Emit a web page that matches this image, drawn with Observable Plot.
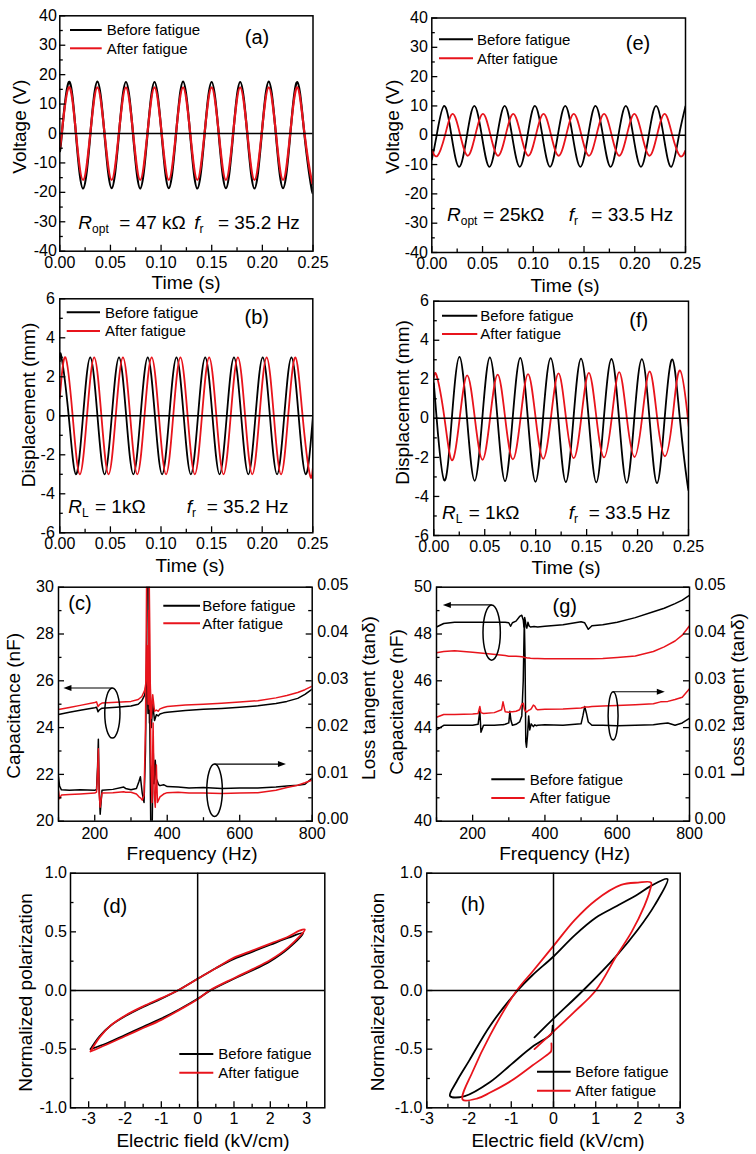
<!DOCTYPE html>
<html>
<head>
<meta charset="utf-8">
<script src="https://cdn.jsdelivr.net/npm/d3@7"></script>
<script src="https://cdn.jsdelivr.net/npm/@observablehq/plot@0.6"></script>
<style>
  html, body { margin: 0; padding: 0; background: #fff; }
  #fig { position: relative; width: 756px; height: 1154px; overflow: hidden; background: #fff; }
  #fig > svg { position: absolute; overflow: visible; }
</style>
</head>
<body>
<div id="fig"></div>
<script>
// ================= DATA =================
const seriesNames = ["Before fatigue", "After fatigue"];

// (a) Voltage, R_opt = 47 kOhm, fr = 35.2 Hz (black/red in phase)
const aTime = [0, 0.0019, 0.0089, 0.0160, 0.0230, 0.0301, 0.0371, 0.0442, 0.0512, 0.0583, 0.0653, 0.0724, 0.0794, 0.0865, 0.0935, 0.1006, 0.1076, 0.1147, 0.1217, 0.1288, 0.1358, 0.1429, 0.1499, 0.1570, 0.1640, 0.1711, 0.1781, 0.1852, 0.1922, 0.1993, 0.2063, 0.2134, 0.2204, 0.2275, 0.2345, 0.2416, 0.2486, 0.25];
const aBefore = [-6, -0.5, 17.5, -0.5, -18.7, -0.5, 17.6, -0.5, -18.6, -0.5, 17.5, -0.5, -18.7, -0.5, 17.5, -0.5, -18.6, -0.5, 17.6, -0.5, -18.7, -0.5, 17.5, -0.5, -18.6, -0.5, 17.5, -0.5, -18.7, -0.5, 17.6, -0.5, -18.6, -0.5, 17.5, -0.5, -18.7, -18.5];
const aAfter = [-5, 0, 15.7, 0, -15.8, 0, 15.7, 0, -15.8, 0, 15.7, 0, -15.8, 0, 15.7, 0, -15.8, 0, 15.7, 0, -15.8, 0, 15.7, 0, -15.8, 0, 15.7, 0, -15.8, 0, 15.7, 0, -15.8, 0, 15.7, 0, -15.8, -15.6];

// (b) Displacement, RL = 1 kOhm, fr = 35.2 Hz
const bTimeBefore = [0, 0.0017, 0.0088, 0.0159, 0.0230, 0.0301, 0.0372, 0.0443, 0.0514, 0.0585, 0.0656, 0.0727, 0.0798, 0.0869, 0.0940, 0.1011, 0.1082, 0.1153, 0.1224, 0.1295, 0.1366, 0.1437, 0.1508, 0.1579, 0.1650, 0.1721, 0.1792, 0.1863, 0.1934, 0.2005, 0.2076, 0.2147, 0.2218, 0.2289, 0.2360, 0.2431, 0.25];
const bBefore = [2.8, 3.0, 0, -3.0, 0, 3.0, 0, -3.0, 0, 3.0, 0, -3.0, 0, 3.0, 0, -3.0, 0, 3.0, 0, -3.0, 0, 3.0, 0, -3.0, 0, 3.0, 0, -3.0, 0, 3.0, 0, -3.0, 0, 3.0, 0, -3.0, -0.1];
const bTimeAfter = [0, 0.0056, 0.0127, 0.0198, 0.0269, 0.0340, 0.0411, 0.0482, 0.0553, 0.0624, 0.0695, 0.0766, 0.0837, 0.0908, 0.0979, 0.1050, 0.1121, 0.1192, 0.1263, 0.1334, 0.1405, 0.1476, 0.1547, 0.1618, 0.1689, 0.1760, 0.1831, 0.1902, 0.1973, 0.2044, 0.2115, 0.2186, 0.2257, 0.2328, 0.2399, 0.2470, 0.25];
const bAfter = [0.9, 3.0, 0, -3.0, 0, 3.0, 0, -3.0, 0, 3.0, 0, -3.0, 0, 3.0, 0, -3.0, 0, 3.0, 0, -3.0, 0, 3.0, 0, -3.0, 0, 3.0, 0, -3.0, 0, 3.0, 0, -3.0, 0, 3.0, 0, -3.0, -2.7];

// (e) Voltage, R_opt = 25 kOhm, fr = 33.5 Hz
const eTimeBefore = [0, 0.0046, 0.0121, 0.0195, 0.0270, 0.0345, 0.0419, 0.0494, 0.0568, 0.0643, 0.0718, 0.0792, 0.0867, 0.0942, 0.1016, 0.1091, 0.1165, 0.1240, 0.1315, 0.1389, 0.1464, 0.1539, 0.1613, 0.1688, 0.1762, 0.1837, 0.1912, 0.1986, 0.2061, 0.2136, 0.2210, 0.2285, 0.2359, 0.2434, 0.25];
const eBefore = [-8.3, -0.4, 10.0, -0.4, -10.8, -0.4, 10.0, -0.4, -10.8, -0.4, 10.0, -0.4, -10.8, -0.4, 10.0, -0.4, -10.8, -0.4, 10.0, -0.4, -10.8, -0.4, 10.0, -0.4, -10.8, -0.4, 10.0, -0.4, -10.8, -0.4, 10.0, -0.4, -10.8, -0.4, 9.9];
const eTimeAfter = [0, 0.0056, 0.0131, 0.0205, 0.0280, 0.0355, 0.0429, 0.0504, 0.0578, 0.0653, 0.0728, 0.0802, 0.0877, 0.0952, 0.1026, 0.1101, 0.1175, 0.1250, 0.1325, 0.1399, 0.1474, 0.1549, 0.1623, 0.1698, 0.1772, 0.1847, 0.1922, 0.1996, 0.2071, 0.2146, 0.2220, 0.2295, 0.2369, 0.2444, 0.25];
const eAfter = [-5.0, -7.0, 0.1, 7.3, 0.1, -7.0, 0.1, 7.3, 0.1, -7.0, 0.1, 7.3, 0.1, -7.0, 0.1, 7.3, 0.1, -7.0, 0.1, 7.3, 0.1, -7.0, 0.1, 7.3, 0.1, -7.0, 0.1, 7.3, 0.1, -7.0, 0.1, 7.3, 0.1, -7.0, -5.2];

// (f) Displacement, RL = 1 kOhm, fr = 33.5 Hz
const fTimeBefore = [0, 0.0028, 0.0103, 0.0177, 0.0252, 0.0326, 0.0401, 0.0476, 0.0550, 0.0625, 0.0699, 0.0774, 0.0849, 0.0923, 0.0998, 0.1072, 0.1147, 0.1222, 0.1296, 0.1371, 0.1445, 0.1520, 0.1595, 0.1669, 0.1744, 0.1818, 0.1893, 0.1968, 0.2042, 0.2117, 0.2191, 0.2266, 0.2341, 0.2415, 0.2490, 0.25];
const fBefore = [1.8, 0, -3.18, 0, 3.15, 0, -3.2, 0, 3.12, 0, -3.22, 0, 3.1, 0, -3.25, 0, 3.08, 0, -3.27, 0, 3.06, 0, -3.28, 0, 3.04, 0, -3.3, 0, 3.03, 0, -3.32, 0, 3.02, 0, -3.38, -3.35];
const fTimeAfter = [0, 0.0030, 0.0105, 0.0179, 0.0254, 0.0328, 0.0403, 0.0478, 0.0552, 0.0627, 0.0701, 0.0776, 0.0851, 0.0925, 0.1000, 0.1074, 0.1149, 0.1224, 0.1298, 0.1373, 0.1447, 0.1522, 0.1597, 0.1671, 0.1746, 0.1820, 0.1895, 0.1970, 0.2044, 0.2119, 0.2193, 0.2268, 0.2343, 0.2417, 0.2492, 0.25];
const fAfter = [2.1, 2.15, 0, -2.15, 0, 2.2, 0, -2.12, 0, 2.24, 0, -2.1, 0, 2.27, 0, -2.07, 0, 2.3, 0, -2.04, 0, 2.33, 0, -2.0, 0, 2.37, 0, -1.98, 0, 2.4, 0, -1.94, 0, 2.45, 0.1, -0.3];

// (c) Capacitance (nF) and loss tangent vs frequency (Hz)
const cFreqCap = [100, 130, 160, 200, 205, 209, 213, 220, 260, 300, 320, 330, 338, 342, 345, 347, 349, 351, 353, 356, 360, 365, 370, 375, 380, 390, 400, 450, 500, 550, 600, 650, 700, 730, 760, 780, 800];
const cCapBefore = [24.56, 24.66, 24.74, 24.85, 24.87, 24.68, 24.76, 24.83, 24.87, 24.92, 25.0, 25.15, 25.4, 25.9, 26.05, 24.6, 27.5, 24.2, 25.6, 24.0, 25.0, 24.3, 24.55, 24.5, 24.58, 24.63, 24.66, 24.73, 24.78, 24.82, 24.87, 24.93, 25.03, 25.12, 25.25, 25.42, 25.64];
const cCapAfter = [24.77, 24.86, 24.95, 25.07, 25.1, 24.9, 24.98, 25.05, 25.08, 25.12, 25.2, 25.33, 25.6, 26.0, 27.5, 25.0, 29.0, 24.8, 26.0, 24.4, 25.4, 24.7, 24.75, 24.7, 24.8, 24.86, 24.9, 24.97, 25.0, 25.04, 25.09, 25.15, 25.27, 25.37, 25.5, 25.62, 25.77];
const cFreqTan = [100, 103, 108, 130, 160, 200, 205, 208, 210, 212, 215, 220, 250, 280, 285, 300, 315, 322, 326, 331, 336, 340, 343, 346, 349, 352, 355, 358, 361, 364, 367, 370, 373, 376, 380, 390, 400, 430, 460, 500, 550, 600, 650, 700, 730, 760, 780, 800];
const cTanBefore = [0.0095, 0.0075, 0.0067, 0.0066, 0.0067, 0.0066, 0.0068, 0.012, 0.0175, 0.008, 0.0015, 0.0066, 0.0068, 0.0073, 0.007, 0.0067, 0.007, 0.0085, 0.0095, 0.006, 0.004, 0.015, 0.035, 0.06, 0.055, 0.02, -0.005, -0.005, 0.016, 0.008, 0.013, 0.009, 0.0085, 0.0078, 0.0076, 0.0078, 0.0074, 0.0073, 0.0071, 0.0072, 0.007, 0.0071, 0.0071, 0.0073, 0.0075, 0.0077, 0.0079, 0.0092];
const cTanAfter = [0.0065, 0.0048, 0.0056, 0.0057, 0.0058, 0.006, 0.0062, 0.011, 0.0155, 0.006, 0.003, 0.006, 0.0061, 0.0063, 0.0062, 0.0062, 0.0058, 0.0052, 0.005, 0.0045, 0.0055, 0.02, 0.05, 0.06, 0.06, 0.04, 0.012, 0.004, 0.021, 0.006, 0.003, 0.012, 0.004, 0.0045, 0.0052, 0.0058, 0.0061, 0.0062, 0.006, 0.006, 0.0059, 0.006, 0.0061, 0.0066, 0.0072, 0.0077, 0.0082, 0.0088];

// (g) Capacitance (nF) and loss tangent vs frequency (Hz)
const gFreqCap = [100, 120, 150, 200, 250, 290, 300, 305, 310, 320, 330, 336, 340, 342, 344, 346, 348, 350, 353, 356, 360, 370, 380, 400, 450, 500, 510, 520, 530, 560, 600, 650, 700, 730, 760, 780, 800];
const gCapBefore = [48.3, 48.45, 48.5, 48.5, 48.5, 48.5, 48.48, 48.33, 48.48, 48.55, 48.75, 48.8, 48.6, 48.3, 48.7, 48.55, 48.3, 48.25, 48.5, 48.35, 48.3, 48.32, 48.3, 48.33, 48.4, 48.52, 48.48, 48.2, 48.35, 48.4, 48.5, 48.7, 48.95, 49.1, 49.3, 49.45, 49.65];
const gCapAfter = [47.2, 47.25, 47.28, 47.22, 47.15, 47.08, 47.05, 47.05, 47.05, 47.05, 47.04, 47.03, 47.02, 47.0, 47.0, 46.99, 46.98, 46.98, 46.97, 46.97, 46.96, 46.95, 46.95, 46.94, 46.94, 46.94, 46.94, 46.94, 46.94, 46.95, 47.0, 47.06, 47.25, 47.45, 47.7, 47.95, 48.35];
const gFreqTan = [100, 120, 150, 200, 215, 220, 223, 230, 260, 280, 284, 290, 300, 303, 306, 310, 320, 330, 336, 340, 343, 345, 347, 349, 352, 355, 358, 362, 368, 372, 376, 380, 400, 450, 500, 505, 510, 515, 520, 530, 560, 600, 650, 700, 720, 740, 760, 780, 800];
const gTanBefore = [0.0195, 0.0205, 0.0205, 0.0205, 0.0207, 0.0235, 0.019, 0.0205, 0.0205, 0.0206, 0.0206, 0.0207, 0.021, 0.0235, 0.0215, 0.0205, 0.0207, 0.0212, 0.0225, 0.03, 0.043, 0.035, 0.017, 0.0158, 0.0185, 0.0225, 0.0195, 0.0208, 0.0202, 0.0206, 0.0204, 0.0205, 0.0206, 0.0205, 0.0208, 0.0225, 0.0245, 0.023, 0.0212, 0.0205, 0.0205, 0.0204, 0.0205, 0.0206, 0.0208, 0.021, 0.0205, 0.021, 0.022];
const gTanAfter = [0.0222, 0.0228, 0.0228, 0.0229, 0.023, 0.0245, 0.0232, 0.023, 0.0232, 0.0238, 0.0255, 0.0234, 0.0233, 0.0233, 0.0234, 0.0234, 0.0235, 0.0238, 0.025, 0.0252, 0.024, 0.0236, 0.0235, 0.0233, 0.0235, 0.0237, 0.0238, 0.024, 0.0248, 0.0246, 0.024, 0.0238, 0.0239, 0.024, 0.0242, 0.0243, 0.0244, 0.0244, 0.0244, 0.0245, 0.0246, 0.0247, 0.0249, 0.0251, 0.0255, 0.0256, 0.026, 0.0265, 0.0283];

// (d) P-E loops (field kV/cm, normalized polarization)
const dBeforeE = [-2.95, -2.5, -2.0, -1.5, -1.0, -0.5, 0, 0.35, 1.0, 1.5, 2.0, 2.5, 2.9, 2.5, 2.0, 1.5, 1.0, 0.5, 0, -0.55, -1.0, -1.5, -2.0, -2.4, -2.7, -2.95];
const dBeforeP = [-0.50, -0.45, -0.38, -0.31, -0.24, -0.16, -0.07, 0, 0.10, 0.17, 0.25, 0.36, 0.49, 0.45, 0.39, 0.33, 0.27, 0.19, 0.10, 0, -0.07, -0.14, -0.22, -0.30, -0.39, -0.50];
const dAfterE = [-2.95, -2.5, -2.0, -1.5, -1.0, -0.5, 0, 0.33, 1.0, 1.5, 2.0, 2.5, 2.95, 2.8, 2.5, 2.0, 1.5, 1.0, 0.5, 0, -0.55, -1.0, -1.5, -2.0, -2.4, -2.7, -2.95];
const dAfterP = [-0.52, -0.46, -0.39, -0.32, -0.25, -0.165, -0.075, 0, 0.105, 0.18, 0.26, 0.37, 0.52, 0.51, 0.46, 0.40, 0.34, 0.28, 0.19, 0.10, 0, -0.065, -0.135, -0.215, -0.30, -0.40, -0.52];

// (h) P-E loops
const hBeforeE = [-0.45, 0, 0.7, 1.5, 2.0, 2.4, 2.7, 2.3, 2.0, 1.5, 1.0, 0.5, 0, -0.5, -0.85, -1.5, -2.0, -2.3, -2.45, -2.1, -1.5, -1.0, -0.5, -0.15, -0.05, -0.02];
const hBeforeP = [-0.40, -0.24, 0, 0.30, 0.52, 0.73, 0.95, 0.89, 0.82, 0.72, 0.62, 0.47, 0.29, 0.13, 0, -0.30, -0.60, -0.78, -0.90, -0.90, -0.78, -0.63, -0.48, -0.40, -0.37, -0.30];
const hAfterE = [-0.45, 0, 0.5, 1.0, 1.5, 1.85, 2.15, 2.28, 2.31, 2.0, 1.6, 1.0, 0.5, 0, -0.5, -0.87, -1.5, -1.9, -2.15, -1.8, -1.5, -1.0, -0.5, -0.12, -0.06, -0.05];
const hAfterP = [-0.50, -0.35, -0.18, 0, 0.30, 0.50, 0.72, 0.85, 0.92, 0.92, 0.90, 0.77, 0.60, 0.38, 0.16, 0, -0.38, -0.68, -0.93, -0.92, -0.87, -0.77, -0.64, -0.54, -0.52, -0.45];

// Tick values
const timeTicks = [0, 0.05, 0.10, 0.15, 0.20, 0.25];
const timeMinor = [0.025, 0.075, 0.125, 0.175, 0.225];
const voltTicks = [-40, -30, -20, -10, 0, 10, 20, 30, 40];
const voltMinor = [-35, -25, -15, -5, 5, 15, 25, 35];
const dispTicks = [-6, -4, -2, 0, 2, 4, 6];
const dispMinor = [-5, -3, -1, 1, 3, 5];
const freqTicks = [200, 400, 600, 800];
const freqMinor = [100, 300, 500, 700];
const capTicksC = [20, 22, 24, 26, 28, 30];
const capMinorC = [21, 23, 25, 27, 29];
const capTicksG = [40, 42, 44, 46, 48, 50];
const capMinorG = [41, 43, 45, 47, 49];
const tanTicks = [0, 0.01, 0.02, 0.03, 0.04, 0.05];
const tanMinor = [0.005, 0.015, 0.025, 0.035, 0.045];
const fieldTicks = [-3, -2, -1, 0, 1, 2, 3];
const fieldMinor = [-2.5, -1.5, -0.5, 0.5, 1.5, 2.5];
const polTicks = [-1, -0.5, 0, 0.5, 1];
const polMinor = [-0.75, -0.25, 0.25, 0.75];

// Annotation ellipses (frequency, capacitance-scale value, radii, arrow target frequency)
const cMarkers = [{f: 250, v: 24.6, rf: 21, rv: 1.07, to: 115}, {f: 532, v: 21.3, rf: 21.5, rv: 1.12, to: 729}];
const gMarkers = [{f: 254, v: 48.04, rf: 24, rv: 1.18, to: 119}, {f: 590, v: 44.48, rf: 13.8, rv: 1.03, to: 733}];

// ================= RENDERING =================
const BLK = "#000000", RED = "#e8141c";
const FONT = '"Liberation Sans", Arial, Helvetica, sans-serif';
const toCapC = t => 20 + 200 * t;
const toCapG = t => 40 + 200 * t;
const zip = (xs, ys) => xs.map((x, i) => ({x, y: ys[i]}));

function txt(g, P, x, y, s, o = {}) {
  const [X, Y] = P(x, y);
  const t = g.append("text").attr("x", X).attr("y", Y)
    .attr("font-size", o.size || 19).attr("font-family", FONT)
    .attr("text-anchor", o.anchor || "middle").attr("fill", "#000");
  if (o.mid !== false) t.attr("dy", "0.36em");
  if (o.rot) t.attr("transform", `rotate(-90,${X},${Y})`);
  t.text(s);
  return t;
}
function rsub(g, P, x, y, main, subs) {
  const [X, Y] = P(x, y);
  const t = g.append("text").attr("x", X).attr("y", Y).attr("font-size", 19)
    .attr("font-family", FONT).attr("text-anchor", "start").attr("fill", "#000");
  t.append("tspan").attr("font-style", "italic").text(main);
  t.append("tspan").attr("font-size", 12).attr("dy", 4).text(subs);
}
function legend(g, P, lx1, lx2, tx, y1, y2) {
  [[y1, BLK, seriesNames[0]], [y2, RED, seriesNames[1]]].forEach(([yy, c, s]) => {
    const [X1, Y] = P(lx1, yy), [X2] = P(lx2, yy);
    g.append("line").attr("x1", X1).attr("x2", X2).attr("y1", Y).attr("y2", Y)
      .attr("stroke", c).attr("stroke-width", 2);
    txt(g, P, tx, yy, s, {anchor: "start", size: 15});
  });
}
function ellipseArrow(g, sx, sy, e) {
  const cx = sx(e.f), cy = sy(e.v);
  const rx = Math.abs(sx(e.f + e.rf) - cx), ry = Math.abs(sy(e.v + e.rv) - cy);
  g.append("ellipse").attr("cx", cx).attr("cy", cy).attr("rx", rx).attr("ry", ry)
    .attr("fill", "none").attr("stroke", "#000").attr("stroke-width", 1.5);
  const ay = cy - ry, ax = sx(e.to), d = ax < cx ? -1 : 1;
  g.append("line").attr("x1", cx).attr("x2", ax - d * 5).attr("y1", ay).attr("y2", ay)
    .attr("stroke", "#000").attr("stroke-width", 1.2);
  g.append("path").attr("d", `M${ax},${ay}L${ax - d * 8},${ay - 3}L${ax - d * 8},${ay + 3}Z`).attr("fill", "#000");
}

function makePanel(lay, cfg) {
  const [cx, cy, cw, ch] = lay.cell;
  const [fl, ft, fr, fb] = lay.frame;
  const fw = fr - fl, fh = fb - ft;
  const marks = [];
  for (const s of cfg.series) {
    marks.push(Plot.line(zip(s.x, s.y), {x: "x", y: "y", stroke: s.stroke, strokeWidth: s.width || 1.8, curve: s.curve || "linear", clip: true}));
  }
  if (cfg.zeroY) marks.push(Plot.ruleY([0], {stroke: BLK, strokeWidth: 1.5}));
  if (cfg.zeroX) marks.push(Plot.ruleX([0], {stroke: BLK, strokeWidth: 1.5}));
  const tk = {stroke: BLK, strokeWidth: 1.3};
  marks.push(
    Plot.tickX(cfg.x.major, {x: d => d, insetTop: fh - 6, ...tk}),
    Plot.tickX(cfg.x.minor, {x: d => d, insetTop: fh - 3.5, ...tk}),
    Plot.tickY(cfg.y.major, {y: d => d, insetRight: fw - 6, ...tk}),
    Plot.tickY(cfg.y.minor, {y: d => d, insetRight: fw - 3.5, ...tk}),
    Plot.axisX({ticks: cfg.x.major, tickSize: 0, tickPadding: cfg.x.pad, tickFormat: cfg.x.fmt, label: null, fontSize: 16}),
    Plot.axisY({anchor: "left", ticks: cfg.y.major, tickSize: 0, tickPadding: cfg.y.pad, tickFormat: cfg.y.fmt, label: null, fontSize: 16})
  );
  if (cfg.y2) {
    marks.push(
      Plot.tickY(cfg.y2.major, {y: d => d, insetLeft: fw - 6, ...tk}),
      Plot.tickY(cfg.y2.minor, {y: d => d, insetLeft: fw - 3.5, ...tk}),
      Plot.axisY({anchor: "right", ticks: cfg.y2.major, tickSize: 0, tickPadding: cfg.y2.pad, tickFormat: cfg.y2.fmt, label: null, fontSize: 16, dy: -2})
    );
  }
  marks.push(Plot.frame({stroke: BLK, strokeWidth: 1.5}));
  marks.push((index, scales) => {
    const g = d3.create("svg:g").attr("font-family", FONT);
    const P = (x, y) => [x - cx, y - cy];
    cfg.overlay(g, P, scales.x, scales.y);
    return g.node();
  });
  const svg = Plot.plot({
    width: cw, height: ch,
    marginLeft: fl - cx, marginRight: cx + cw - fr, marginTop: ft - cy, marginBottom: cy + ch - fb,
    x: {domain: cfg.x.domain}, y: {domain: cfg.y.domain},
    marks
  });
  svg.setAttribute("font-family", FONT);
  svg.setAttribute("font-size", 16);
  svg.style.left = cx + "px";
  svg.style.top = cy + "px";
  svg.style.background = "transparent";
  svg.style.overflow = "visible";
  document.getElementById("fig").appendChild(svg);
}

const fmtTime = d => d.toFixed(2);
const fmtInt = d => String(d);
const fmt1 = d => d.toFixed(1);

// (a)
makePanel({cell: [0, 0, 378, 290], frame: [59.3, 15.3, 312.5, 250.7]}, {
  x: {domain: [0, 0.25], major: timeTicks, minor: timeMinor, fmt: fmtTime, pad: 5},
  y: {domain: [-40, 40], major: voltTicks, minor: voltMinor, fmt: fmtInt, pad: 3},
  zeroY: true,
  series: [
    {x: aTime, y: aBefore, stroke: BLK, curve: "natural", width: 2.2},
    {x: aTime, y: aAfter, stroke: RED, curve: "natural", width: 2.2}
  ],
  overlay: (g, P) => {
    legend(g, P, 70, 101.7, 106.7, 30, 48.3);
    txt(g, P, 257, 36.7, "(a)", {size: 20});
    rsub(g, P, 78.3, 229.3, "R", "opt");
    txt(g, P, 119.3, 229.3, "= 47 kΩ", {anchor: "start", mid: false});
    rsub(g, P, 194.3, 229.3, "f", "r");
    txt(g, P, 218, 229.3, "= 35.2 Hz", {anchor: "start", mid: false});
    txt(g, P, 19.5, 126.7, "Voltage (V)", {rot: true});
    txt(g, P, 186, 282, "Time (s)");
  }
});

// (e)
makePanel({cell: [378, 0, 378, 290], frame: [431.3, 17.5, 685, 252]}, {
  x: {domain: [0, 0.25], major: timeTicks, minor: timeMinor, fmt: fmtTime, pad: 5},
  y: {domain: [-40, 40], major: voltTicks, minor: voltMinor, fmt: fmtInt, pad: 4},
  zeroY: true,
  series: [
    {x: eTimeBefore, y: eBefore, stroke: BLK, curve: "natural", width: 1.8},
    {x: eTimeAfter, y: eAfter, stroke: RED, curve: "natural", width: 1.8}
  ],
  overlay: (g, P) => {
    legend(g, P, 439, 473, 477, 39.3, 58.3);
    txt(g, P, 638, 42.7, "(e)", {size: 20});
    rsub(g, P, 447, 221, "R", "opt");
    txt(g, P, 483, 221, "= 25kΩ", {anchor: "start", mid: false});
    rsub(g, P, 568.7, 221, "f", "r");
    txt(g, P, 591.3, 221, "= 33.5 Hz", {anchor: "start", mid: false});
    txt(g, P, 392, 126.7, "Voltage (V)", {rot: true});
    txt(g, P, 565, 285, "Time (s)");
  }
});

// (b)
makePanel({cell: [0, 290, 378, 285], frame: [59.3, 298.3, 312.3, 532.3]}, {
  x: {domain: [0, 0.25], major: timeTicks, minor: timeMinor, fmt: fmtTime, pad: 5},
  y: {domain: [-6, 6], major: dispTicks, minor: dispMinor, fmt: fmtInt, pad: 5},
  zeroY: true,
  series: [
    {x: bTimeBefore, y: bBefore, stroke: BLK, curve: "natural", width: 1.8},
    {x: bTimeAfter, y: bAfter, stroke: RED, curve: "natural", width: 1.8}
  ],
  overlay: (g, P) => {
    legend(g, P, 66.7, 100, 105, 312.3, 331);
    txt(g, P, 256.7, 316.7, "(b)", {size: 20});
    rsub(g, P, 68.3, 513.3, "R", "L");
    txt(g, P, 95, 513.3, "= 1kΩ", {anchor: "start", mid: false});
    rsub(g, P, 186.7, 513.3, "f", "r");
    txt(g, P, 206.7, 513.3, "= 35.2 Hz", {anchor: "start", mid: false});
    txt(g, P, 28.5, 405, "Displacement (mm)", {rot: true});
    txt(g, P, 190, 565, "Time (s)");
  }
});

// (f)
makePanel({cell: [378, 290, 378, 285], frame: [433.3, 300.7, 688, 535]}, {
  x: {domain: [0, 0.25], major: timeTicks, minor: timeMinor, fmt: fmtTime, pad: 5},
  y: {domain: [-6, 6], major: dispTicks, minor: dispMinor, fmt: fmtInt, pad: 5},
  zeroY: true,
  series: [
    {x: fTimeBefore, y: fBefore, stroke: BLK, curve: "natural", width: 1.8},
    {x: fTimeAfter, y: fAfter, stroke: RED, curve: "natural", width: 1.8}
  ],
  overlay: (g, P) => {
    legend(g, P, 442, 477.3, 480.3, 315.7, 334);
    txt(g, P, 638.7, 320, "(f)", {size: 20});
    rsub(g, P, 442, 519.3, "R", "L");
    txt(g, P, 468.7, 519.3, "= 1kΩ", {anchor: "start", mid: false});
    rsub(g, P, 568.7, 519.3, "f", "r");
    txt(g, P, 588.7, 519.3, "= 33.5 Hz", {anchor: "start", mid: false});
    txt(g, P, 402, 402.5, "Displacement (mm)", {rot: true});
    txt(g, P, 566, 567, "Time (s)");
  }
});

// (c)
makePanel({cell: [0, 575, 380, 287], frame: [58, 586.7, 311.7, 820.7]}, {
  x: {domain: [100, 800], major: freqTicks, minor: freqMinor, fmt: fmtInt, pad: 6},
  y: {domain: [20, 30], major: capTicksC, minor: capMinorC, fmt: fmtInt, pad: 4.7},
  y2: {major: tanTicks.map(toCapC), minor: tanMinor.map(toCapC), fmt: d => ((d - 20) / 200).toFixed(2), pad: 5},
  series: [
    {x: cFreqCap, y: cCapBefore, stroke: BLK, width: 1.5},
    {x: cFreqTan, y: cTanBefore.map(toCapC), stroke: BLK, width: 1.5},
    {x: cFreqCap, y: cCapAfter, stroke: RED, width: 1.5},
    {x: cFreqTan, y: cTanAfter.map(toCapC), stroke: RED, width: 1.5}
  ],
  overlay: (g, P, sx, sy) => {
    legend(g, P, 163.3, 200, 202.3, 605.7, 623.3);
    txt(g, P, 80, 603, "(c)", {size: 20});
    cMarkers.forEach(m => ellipseArrow(g, sx, sy, m));
    txt(g, P, 13.5, 705.8, "Capacitance (nF)", {rot: true});
    txt(g, P, 367.8, 698, "Loss tangent (tanδ)", {rot: true});
    txt(g, P, 192, 853, "Frequency (Hz)");
  }
});

// (g)
makePanel({cell: [380, 575, 376, 287], frame: [436, 586.7, 689, 820.7]}, {
  x: {domain: [100, 800], major: freqTicks, minor: freqMinor, fmt: fmtInt, pad: 6},
  y: {domain: [40, 50], major: capTicksG, minor: capMinorG, fmt: fmtInt, pad: 4.7},
  y2: {major: tanTicks.map(toCapG), minor: tanMinor.map(toCapG), fmt: d => ((d - 40) / 200).toFixed(2), pad: 5},
  series: [
    {x: gFreqCap, y: gCapBefore, stroke: BLK, width: 1.5},
    {x: gFreqTan, y: gTanBefore.map(toCapG), stroke: BLK, width: 1.5},
    {x: gFreqCap, y: gCapAfter, stroke: RED, width: 1.5},
    {x: gFreqTan, y: gTanAfter.map(toCapG), stroke: RED, width: 1.5}
  ],
  overlay: (g, P, sx, sy) => {
    legend(g, P, 491.3, 524.7, 529.7, 779.3, 798);
    txt(g, P, 564.7, 606, "(g)", {size: 20});
    gMarkers.forEach(m => ellipseArrow(g, sx, sy, m));
    txt(g, P, 396.5, 702, "Capacitance (nF)", {rot: true});
    txt(g, P, 737.5, 695, "Loss tangent (tanδ)", {rot: true});
    txt(g, P, 564.7, 853, "Frequency (Hz)");
  }
});

// (d)
makePanel({cell: [0, 862, 366, 292], frame: [70, 872.7, 324.3, 1107.3]}, {
  x: {domain: [-3.5, 3.5], major: fieldTicks, minor: fieldMinor, fmt: fmtInt, pad: 5},
  y: {domain: [-1, 1], major: polTicks, minor: polMinor, fmt: fmt1, pad: 3.5},
  zeroX: true, zeroY: true,
  series: [
    {x: dBeforeE, y: dBeforeP, stroke: BLK, curve: "catmull-rom", width: 1.8},
    {x: dAfterE, y: dAfterP, stroke: RED, curve: "catmull-rom", width: 1.8}
  ],
  overlay: (g, P) => {
    legend(g, P, 179.3, 213.3, 218.3, 1054, 1072.7);
    txt(g, P, 115, 906, "(d)", {size: 20});
    txt(g, P, 25, 992.5, "Normalized polarization", {rot: true});
    txt(g, P, 203, 1140, "Electric field (kV/cm)");
  }
});

// (h)
makePanel({cell: [366, 862, 390, 292], frame: [426.3, 872.7, 679.7, 1107.3]}, {
  x: {domain: [-3, 3], major: fieldTicks, minor: fieldMinor, fmt: fmtInt, pad: 5},
  y: {domain: [-1, 1], major: polTicks, minor: polMinor, fmt: fmt1, pad: 4.5},
  zeroX: true, zeroY: true,
  series: [
    {x: hBeforeE, y: hBeforeP, stroke: BLK, curve: "catmull-rom", width: 1.8},
    {x: hAfterE, y: hAfterP, stroke: RED, curve: "catmull-rom", width: 1.8}
  ],
  overlay: (g, P) => {
    legend(g, P, 537, 570.7, 575.3, 1071.7, 1090.7);
    txt(g, P, 473, 904, "(h)", {size: 20});
    txt(g, P, 377, 992, "Normalized polarization", {rot: true});
    txt(g, P, 558, 1140, "Electric field (kV/cm)");
  }
});
</script>
</body>
</html>
